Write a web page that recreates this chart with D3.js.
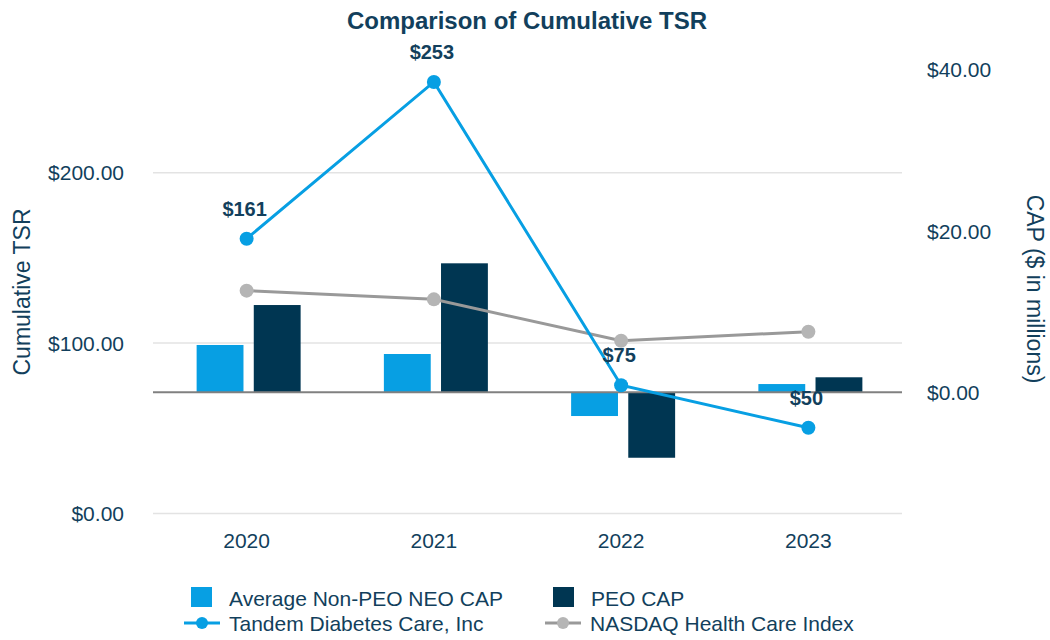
<!DOCTYPE html>
<html>
<head>
<meta charset="utf-8">
<script src="https://cdn.jsdelivr.net/npm/d3@7/dist/d3.min.js"></script>
<style>
  html, body { margin: 0; padding: 0; background: #ffffff; }
  svg { display: block; font-family: "Liberation Sans", Arial, Helvetica, sans-serif; }
</style>
</head>
<body>
<svg id="chart" width="1050" height="640"></svg>
<script>
// ---- data ----
const years = ["2020", "2021", "2022", "2023"];
const nonPeoCap = [5.86, 4.74, -2.96, 1.01];      // $ millions (right axis)
const peoCap = [10.82, 16.0, -8.14, 1.85];        // $ millions (right axis)
const tandemTSR = [161, 253, 75, 50];             // cumulative TSR (left axis)
const nasdaqTSR = [130.5, 125.4, 101.1, 106.4];   // cumulative TSR (left axis)
const tandemLabels = ["$161", "$253", "$75", "$50"];
const leftTicks = [0, 100, 200];
const rightTicks = [0, 20, 40];
const barSeries = ["Average Non-PEO NEO CAP", "PEO CAP"];
const lineSeries = ["Tandem Diabetes Care, Inc", "NASDAQ Health Care Index"];

// ---- styles ----
const cBlue = "#079fe3";
const cNavy = "#003652";
const cGrayLine = "#999999";
const cGrayDot = "#b5b5b5";
const cText = "#123f5c";

const svg = d3.select("#chart");
const plotL = 153, plotR = 902, plotTop = 70, plotBot = 513;

const x = d3.scaleBand().domain(years).range([plotL, plotR]).paddingInner(0).paddingOuter(0);
const x1 = d3.scaleBand().domain(barSeries).range([-50, 54]).paddingInner(0.18);
const yL = d3.scaleLinear().domain([0, 260]).range([plotBot, plotTop]);
const yR = d3.scaleLinear().domain([-15, 40]).range([plotBot, plotTop]);

// gridlines from left axis
const gLeft = svg.append("g").attr("transform", `translate(${plotL},0)`)
  .call(d3.axisLeft(yL).tickValues(leftTicks).tickSize(-(plotR - plotL)).tickFormat(d => "$" + d3.format(",.2f")(d)));
gLeft.select(".domain").remove();
gLeft.selectAll(".tick line").attr("stroke", "#e3e3e3").attr("stroke-width", 1.5);
gLeft.selectAll(".tick text").attr("x", -29).attr("dy", "0.36em")
  .attr("fill", cText).style("font-size", "21px");

// right axis
const gRight = svg.append("g").attr("transform", `translate(${plotR},0)`)
  .call(d3.axisRight(yR).tickValues(rightTicks).tickSize(0).tickFormat(d => "$" + d3.format(",.2f")(d)));
gRight.select(".domain").remove();
gRight.selectAll(".tick text").attr("x", 25).attr("dy", "0.33em")
  .attr("fill", cText).style("font-size", "21px");

// x axis labels
const gX = svg.append("g").attr("transform", `translate(0,${plotBot})`)
  .call(d3.axisBottom(x).tickSize(0));
gX.select(".domain").remove();
gX.selectAll(".tick text").attr("y", 35).attr("dy", 0)
  .attr("fill", cText).style("font-size", "21px");

// bars
const barData = years.map((yr, i) => ({ yr, vals: [nonPeoCap[i], peoCap[i]] }));
const colors = [cBlue, cNavy];
const groups = svg.append("g").selectAll("g").data(barData).join("g")
  .attr("transform", d => `translate(${x(d.yr) + x.bandwidth() / 2},0)`);
groups.selectAll("rect").data(d => d.vals.map((v, k) => ({ v, k }))).join("rect")
  .attr("x", d => x1(barSeries[d.k]))
  .attr("width", x1.bandwidth())
  .attr("y", d => yR(Math.max(0, d.v)))
  .attr("height", d => Math.abs(yR(d.v) - yR(0)))
  .attr("fill", d => colors[d.k]);

// zero line (right axis)
svg.append("line").attr("x1", plotL).attr("x2", plotR)
  .attr("y1", yR(0)).attr("y2", yR(0))
  .attr("stroke", "#808080").attr("stroke-width", 2);

// lines
const cx = d => x(d) + x.bandwidth() / 2;
const lineGen = d3.line().x((d, i) => cx(years[i])).y(d => yL(d));

svg.append("path").datum(nasdaqTSR).attr("d", lineGen)
  .attr("fill", "none").attr("stroke", cGrayLine).attr("stroke-width", 3);
svg.append("g").selectAll("circle").data(nasdaqTSR).join("circle")
  .attr("cx", (d, i) => cx(years[i])).attr("cy", d => yL(d)).attr("r", 7)
  .attr("fill", cGrayDot);

svg.append("path").datum(tandemTSR).attr("d", lineGen)
  .attr("fill", "none").attr("stroke", cBlue).attr("stroke-width", 3);
svg.append("g").selectAll("circle").data(tandemTSR).join("circle")
  .attr("cx", (d, i) => cx(years[i])).attr("cy", d => yL(d)).attr("r", 7)
  .attr("fill", cBlue);

// data labels
svg.append("g").selectAll("text").data(tandemTSR).join("text")
  .attr("x", (d, i) => cx(years[i]) - 2).attr("y", d => yL(d) - 23)
  .attr("text-anchor", "middle").attr("fill", cText)
  .style("font-size", "20px").style("font-weight", "bold")
  .text((d, i) => tandemLabels[i]);

// title
svg.append("text").attr("x", 527).attr("y", 29).attr("text-anchor", "middle")
  .attr("fill", cText).style("font-size", "24px").style("font-weight", "bold")
  .text("Comparison of Cumulative TSR");

// axis titles
svg.append("text").attr("transform", "translate(30,292) rotate(-90)")
  .attr("text-anchor", "middle").attr("fill", cText).style("font-size", "23px")
  .text("Cumulative TSR");
svg.append("text").attr("transform", "translate(1027,289) rotate(90)")
  .attr("text-anchor", "middle").attr("fill", cText).style("font-size", "23px")
  .text("CAP ($ in millions)");

// legend
const leg = svg.append("g");
const legBars = [{ name: barSeries[0], c: cBlue, x: 191 }, { name: barSeries[1], c: cNavy, x: 553 }];
legBars.forEach(d => {
  leg.append("rect").attr("x", d.x).attr("y", 587).attr("width", 21).attr("height", 20).attr("fill", d.c);
  leg.append("text").attr("x", d.x + 38).attr("y", 605.5).attr("fill", cText)
    .style("font-size", "21px").text(d.name);
});
const legLines = [{ name: lineSeries[0], c: cBlue, dot: cBlue, x: 184 }, { name: lineSeries[1], c: cGrayLine, dot: cGrayDot, x: 545 }];
legLines.forEach(d => {
  leg.append("line").attr("x1", d.x).attr("x2", d.x + 36).attr("y1", 623).attr("y2", 623)
    .attr("stroke", d.c).attr("stroke-width", 3);
  leg.append("circle").attr("cx", d.x + 18).attr("cy", 623).attr("r", 6).attr("fill", d.dot);
  leg.append("text").attr("x", d.x + 45).attr("y", 630.5).attr("fill", cText)
    .style("font-size", "21px").text(d.name);
});
</script>
</body>
</html>
